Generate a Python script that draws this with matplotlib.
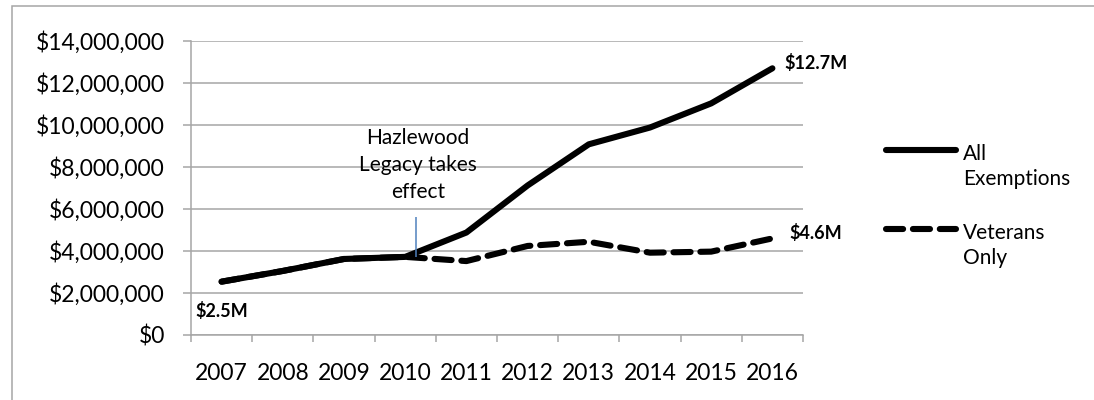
import matplotlib
matplotlib.use('Agg')
import matplotlib.pyplot as plt
from matplotlib.lines import Line2D
from matplotlib.patches import Rectangle
from matplotlib.ticker import FuncFormatter, FixedLocator

# ── data ─────────────────────────────────────────────────────────────────────
years = ['2007', '2008', '2009', '2010', '2011', '2012', '2013', '2014', '2015', '2016']
all_exemptions = [2.54e6, 3.05e6, 3.62e6, 3.72e6, 4.88e6, 7.12e6, 9.08e6, 9.88e6, 11.03e6, 12.7e6]
veterans_only = [2.54e6, 3.05e6, 3.62e6, 3.72e6, 3.52e6, 4.24e6, 4.44e6, 3.92e6, 3.97e6, 4.6e6]
yticks = [0, 2e6, 4e6, 6e6, 8e6, 10e6, 12e6, 14e6]

AXIS_GRAY = '#a6a6a6'
FONT = ['Lato', 'DejaVu Sans']
plt.rcParams['font.family'] = FONT

W, H = 1094, 400
fig = plt.figure(figsize=(W / 100, H / 100), dpi=100)

# light frame around the chart area
fig.add_artist(Rectangle((12 / W, -0.2), 1.2, 394 / H + 0.2,
                         transform=fig.transFigure, fill=False,
                         edgecolor=AXIS_GRAY, linewidth=1.1))

ax = fig.add_axes([191 / W, 65 / H, 612 / W, 294 / H])

x = list(range(len(years)))
solid = dict(color='black', linewidth=4.4, solid_capstyle='round',
             solid_joinstyle='round')
dashed = dict(color='black', linewidth=4.4, dashes=(2.8, 1.6),
              dash_capstyle='round', dash_joinstyle='round')

ax.plot(x, veterans_only, **dashed, zorder=3)
ax.plot(x, all_exemptions, **solid, zorder=4)

# ── axes ─────────────────────────────────────────────────────────────────────
ax.set_xlim(-0.5, len(years) - 0.5)
ax.set_ylim(0, 14e6)
ax.set_yticks(yticks)
ax.yaxis.set_major_formatter(FuncFormatter(lambda v, _: f'${v:,.0f}'))
ax.set_xticks(x)
ax.set_xticklabels(years)
ax.xaxis.set_minor_locator(FixedLocator([i - 0.5 for i in range(len(years) + 1)]))

ax.tick_params(axis='x', which='major', length=0, pad=20.5, labelsize=16.5)
ax.tick_params(axis='x', which='minor', length=5, width=1.1, color=AXIS_GRAY)
ax.tick_params(axis='y', length=5.8, width=1.1, color=AXIS_GRAY, pad=13,
               labelsize=16.5)

for side in ('top', 'right'):
    ax.spines[side].set_visible(False)
for side in ('left', 'bottom'):
    ax.spines[side].set_color(AXIS_GRAY)
    ax.spines[side].set_linewidth(1.1)

ax.yaxis.grid(True, color=AXIS_GRAY, linewidth=1.1)
ax.set_axisbelow(True)

# ── value labels ─────────────────────────────────────────────────────────────
lab = dict(fontsize=13, fontweight='bold', textcoords='offset points')
ax.annotate(f'${all_exemptions[0] / 1e6:.1f}M', (0, all_exemptions[0]),
            xytext=(0, -21), ha='center', va='center', **lab)
ax.annotate(f'${all_exemptions[-1] / 1e6:.1f}M', (x[-1], all_exemptions[-1]),
            xytext=(9, 4), ha='left', va='center', **lab)
ax.annotate(f'${veterans_only[-1] / 1e6:.1f}M', (x[-1], veterans_only[-1]),
            xytext=(12, 4), ha='left', va='center', **lab)

# policy marker
ax.vlines(3.18, 3.72e6, 5.62e6, color='#4f81bd', linewidth=1.1, zorder=5)
ax.text(3.21, 8.1e6, 'Hazlewood\nLegacy takes\neffect', ha='center',
        va='center', fontsize=15, linespacing=1.45)

# ── legend ───────────────────────────────────────────────────────────────────
legend_items = [(solid, 'All\nExemptions', 150), (dashed, 'Veterans\nOnly', 229)]
for style, text, ypix in legend_items:
    yf = 1 - ypix / H
    fig.add_artist(Line2D([886 / W, 956 / W], [yf, yf],
                          transform=fig.transFigure, **style))
    fig.text(963 / W, yf + 6 / H, text, ha='left', va='top', fontsize=15,
             linespacing=1.3)

fig.savefig('out.png', dpi=100)
